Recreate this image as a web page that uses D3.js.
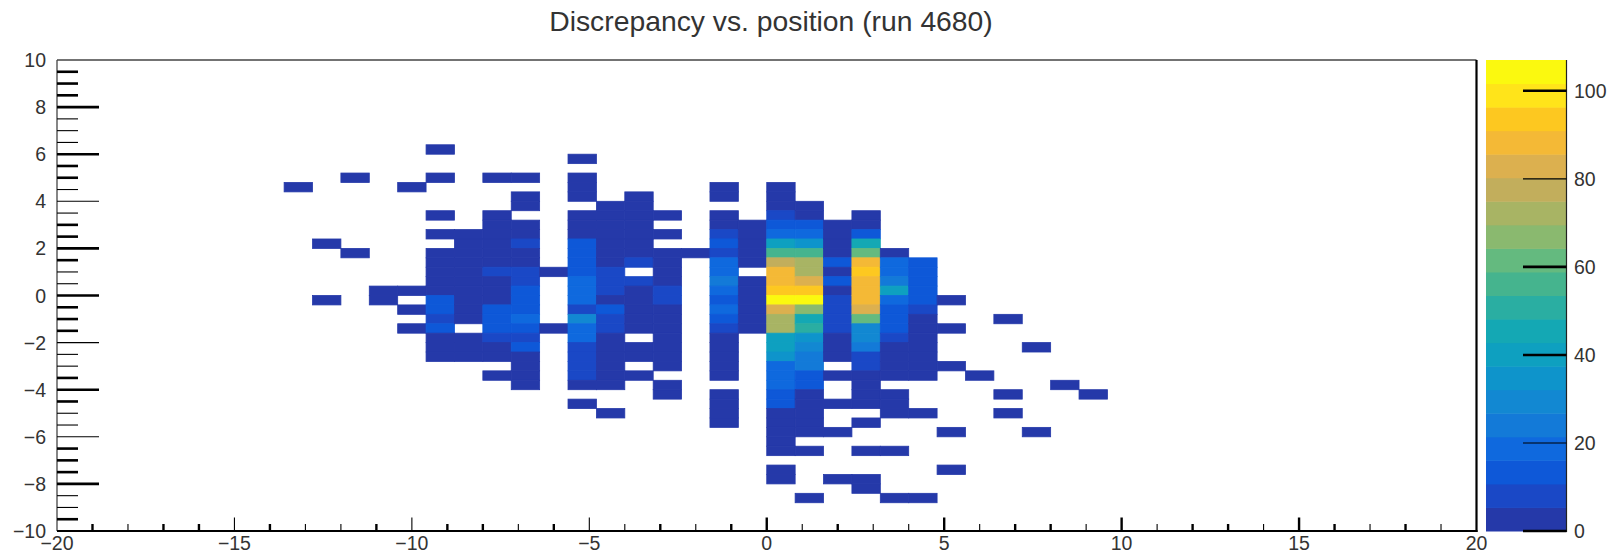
<!DOCTYPE html>
<html><head><meta charset="utf-8">
<script src="https://cdnjs.cloudflare.com/ajax/libs/d3/7.8.5/d3.min.js"></script>
<style>html,body{margin:0;padding:0;background:#fff}svg{display:block}text{font-family:"Liberation Sans",Arial,sans-serif;fill:#333}</style>
</head><body><svg id="c" width="1619" height="554"></svg>
<script>
const titleText = "Discrepancy vs. position (run 4680)";
const xTickLabels = [-20,-15,-10,-5,0,5,10,15,20];
const yTickLabels = [-10,-8,-6,-4,-2,0,2,4,6,8,10];
const zTickLabels = [0,20,40,60,80,100];
const zHeavyTicks = [0,40,60,100];
const zMax = 107;
const nBins = 50;
// palette of 20 contour bands, low to high
const bandColors = ["#2539a9","#1a48c6","#0e58d8","#0f69de","#137ad8","#1288d2","#0e94cb","#0ea0c0","#14a8b4","#2aaea2","#45b48e","#64ba7f","#8ab96f","#a8b464","#c2ae5c","#dcb04f","#f4b936","#fdc820","#ffe41a","#fbf90f"];
// Each run: [x bin, first y bin counted from the top, counts...]
const d = 2;
const runs = [
[8,13,d],
[9,19,d],[9,25,d],
[10,12,d],[10,20,d],
[11,24,d,d],
[12,13,d],[12,24,d],[12,26,d],[12,28,d],
[13,9,d],[13,12,d],[13,16,d],[13,18,d],[13,20,d,d,d,d,d,11,11,9,11,d,d,d],
[14,18,d,d,d,d,d,d,d,d,d,d],[14,29,d,d,d],
[15,12,d],[15,16,d,d,d,d,d,d,7,d,d,d,14,14,14,8,d,d],[15,33,d],
[16,12,d],[16,14,d,d],[16,17,d,d,7,d,d,8,6,14,14,15,18,14,8,14,d,d,d,d],
[17,22,d],[17,28,d],
[18,10,d],[18,12,d,d,d],[18,16,d,d,d,12,12,15,15,18,20,20,9,30,20,20,9,9,9,9,d],[18,36,d],
[19,15,d,d,d,d,d,d,d,8,8,8,3,14,9,9,d,d,d,d,d,d],[19,37,d],
[20,14,d,d,d,d,d,d,d,9],[20,23,9,d,d,d,d,d],[20,30,d,d],[20,33,d],
[21,16,d],[21,18,d],[21,20,d,d,d,d,8,8,d,d,d,d,d,d,d],[21,34,d,d],
[22,20,d],
[23,13,d,d],[23,16,d,d,8,12,9,18,18,24,20,14,18,14,9,d,d,d,d,d],[23,35,d,d,d,d],
[24,17,d,d,d,d,d],[24,23,d,d,d,d,d,d],
[25,13,d,d,d,8,15,18,40,55,80,88,88,94,105,82,72,72,42,38,36,18,18,18,12,12,d,d,d,d,d],[25,43,d,d],
[26,15,d,d,15,18,36,55,72,72,82,94,105,66,44,50,33,27,24,22,14,12,d,d,d,d,d],[26,41,d],[26,46,d],
[27,17,d,d,d,d,12,3,12,3,8,8,8,9,d,d,d],[27,33,d],[27,36,d],[27,39,d],[27,44,d],
[28,16,d,d,16,48,60,88,94,88,88,88,82,60,31,28,26,9,9,d,d,d,d],[28,38,d],[28,41,d],[28,44,d,d],
[29,20,d,18,18,22,38,18,14,14,14,8,d,d,d,d],[29,35,d,d,d],[29,41,d],[29,46,d],
[30,21,11,13,14,14,14,9,d,d,d,d,d,d,d],[30,37,d],[30,46,d],
[31,25,d],[31,28,d],[31,32,d],[31,39,d],[31,43,d],
[32,33,d],
[33,27,d],[33,35,d],[33,37,d],
[34,30,d],[34,39,d],
[35,34,d],
[36,35,d]
];
// line weights of the inner ticks as they appear in the picture: 1 heavy, 0 light
const yTickWeight = "111100011100011110011110001110001111001";   // 9.5 down to -9.5, step 0.5
const xTickWeight = "101101001011010010110100101101011011010";   // -19 up to 19, step 1

const L=57,R=1476.5,T=60,B=531;
const x=d3.scaleLinear().domain([-20,20]).range([L,R]);
const y=d3.scaleLinear().domain([-10,10]).range([B,T]);
const xBin=d3.scaleLinear().domain([0,nBins]).range([L,R]);
const yBin=d3.scaleLinear().domain([0,nBins]).range([T,B]);
const z=d3.scaleLinear().domain([0,zMax]).range([B,T]);
const colour=d3.scaleQuantize().domain([0,zMax]).range(bandColors);
const svg=d3.select("#c");
const cells=runs.flatMap(r=>r.slice(2).map((v,k)=>({i:r[0],j:r[1]+k,v})));
svg.append("g").selectAll("rect").data(cells).join("rect")
 .attr("x",c=>xBin(c.i)).attr("y",c=>yBin(c.j))
 .attr("width",xBin(1)-xBin(0)).attr("height",yBin(1)-yBin(0))
 .attr("fill",c=>colour(c.v)).attr("stroke",c=>colour(c.v)).attr("stroke-width",0.8);
svg.append("text").attr("x",771).attr("y",31).attr("text-anchor","middle").attr("font-size",28.3).text(titleText);
// frame
const ln=(a,b,c,e,w,s)=>svg.append("line").attr("x1",a).attr("y1",b).attr("x2",c).attr("y2",e).attr("stroke",s||"#000").attr("stroke-width",w);
ln(L,T,R,T,1.3,"#444");ln(L,T,L,B,1.3,"#444");ln(L,B,R+1,B,2.2);ln(R,T,R,B+1,2.2);
// y ticks
d3.range(-9.5,9.51,0.5).reverse().forEach((v,k)=>{const maj=Math.abs(v%2)<1e-6;
 ln(L,y(v),L+(maj?42:21),y(v),yTickWeight[k]==="1"?2.6:1.1);});
// x ticks
d3.range(-19,19.01,1).forEach((v,k)=>{const maj=v%5===0;
 ln(x(v),B,x(v),B-(maj?13.5:7),xTickWeight[k]==="1"?2.4:1.1);});
const fmt=v=>String(v).replace("-","\u2212");
yTickLabels.forEach(v=>svg.append("text").attr("x",46).attr("y",y(v)+7).attr("text-anchor","end").attr("font-size",19.5).text(fmt(v)));
xTickLabels.forEach(v=>svg.append("text").attr("x",x(v)).attr("y",549.5).attr("text-anchor","middle").attr("font-size",19.5).text(fmt(v)));
// colour bar
const bw=zMax/bandColors.length;
svg.append("g").selectAll("rect").data(bandColors).join("rect")
 .attr("x",1486).attr("width",81).attr("y",(c,i)=>z((i+1)*bw)).attr("height",(c,i)=>z(i*bw)-z((i+1)*bw)+0.5).attr("fill",c=>c);
ln(1566.5,T,1566.5,B+1,1.2,"#222");
zTickLabels.forEach(v=>{ln(1523,z(v),1566.5,z(v),zHeavyTicks.includes(v)?2.6:1.1);
 svg.append("text").attr("x",1574).attr("y",z(v)+7).attr("font-size",19.5).text(v);});
</script></body></html>
